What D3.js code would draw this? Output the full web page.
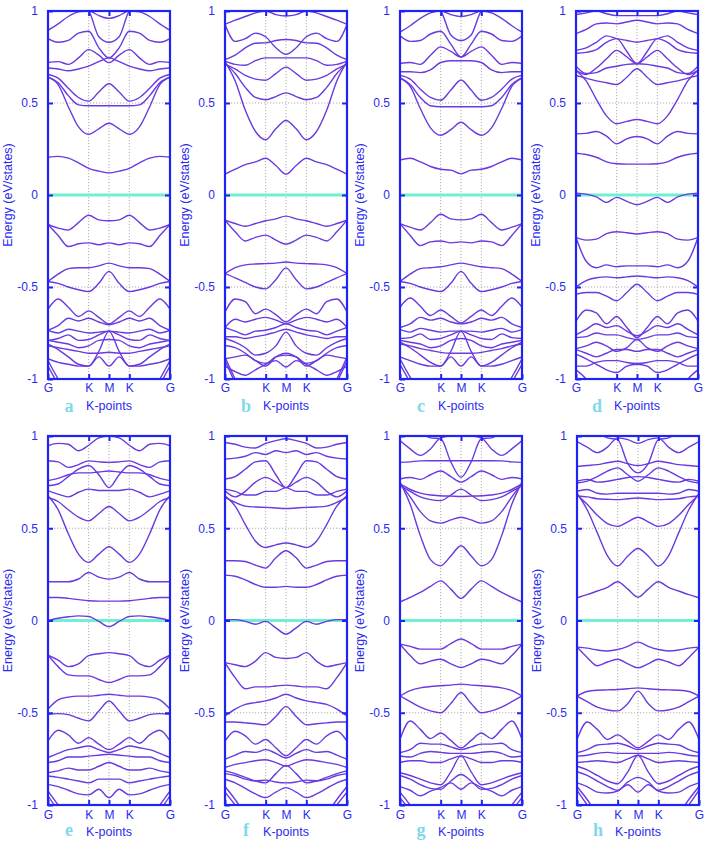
<!DOCTYPE html>
<html><head><meta charset="utf-8">
<script src="https://cdn.jsdelivr.net/npm/d3@7/dist/d3.min.js"></script>
<style>body{margin:0;background:#fff}svg{display:block}</style>
</head><body>
<svg id="chart" width="709" height="842"></svg>
<script>
// ---- data ----
// k-path G-K-M-K-G (symmetric about M); half path sampled at these k values
const kHalf = [0, 0.25, 0.5, 0.75, 1, 1.25, 1.5];
const kTickPos = [0, 1, 1.5, 2, 3];
const kTickLabels = ["G", "K", "M", "K", "G"];
const eTicks = [-1, -0.5, 0, 0.5, 1];
const eTickLabels = ["-1", "-0.5", "0", "0.5", "1"];
const panelLetters = ["a", "b", "c", "d", "e", "f", "g", "h"];
const xTitle = "K-points";
const yTitle = "Energy (eV/states)";

const bandsA = [
  [0.205, 0.21, 0.20, 0.175, 0.145, 0.13, 0.12],
  [0.64, 0.60, 0.48, 0.37, 0.33, 0.36, 0.39],
  [0.64, 0.61, 0.54, 0.49, 0.485, 0.485, 0.485],
  [0.655, 0.635, 0.58, 0.53, 0.51, 0.56, 0.605],
  [0.69, 0.685, 0.675, 0.685, 0.70, 0.725, 0.745],
  [0.72, 0.725, 0.71, 0.745, 0.79, 0.76, 0.72],
  [0.85, 0.83, 0.84, 0.88, 0.89, 0.80, 0.745],
  [0.895, 0.93, 0.97, 0.995, 1.0, 0.975, 0.96],
  [1.15, 1.12, 1.08, 1.03, 1.0, 0.86, 0.83],
  [-0.16, -0.18, -0.19, -0.15, -0.11, -0.135, -0.14],
  [-0.16, -0.22, -0.28, -0.265, -0.26, -0.27, -0.26],
  [-0.47, -0.43, -0.40, -0.395, -0.395, -0.385, -0.37],
  [-0.47, -0.48, -0.50, -0.515, -0.525, -0.48, -0.415],
  [-0.62, -0.565, -0.61, -0.66, -0.63, -0.665, -0.70],
  [-0.735, -0.71, -0.67, -0.685, -0.67, -0.69, -0.705],
  [-0.735, -0.75, -0.73, -0.74, -0.75, -0.745, -0.74],
  [-0.79, -0.78, -0.76, -0.79, -0.785, -0.76, -0.74],
  [-0.79, -0.80, -0.81, -0.83, -0.82, -0.79, -0.785],
  [-0.81, -0.84, -0.88, -0.92, -0.93, -0.85, -0.74],
  [-0.82, -0.83, -0.84, -0.85, -0.86, -0.86, -0.855],
  [-0.89, -0.91, -0.92, -0.93, -0.93, -0.88, -0.93],
  [-0.90, -1.0, -1.08, -1.12, -1.12, -1.12, -1.12],
  [-0.93, -1.03, -1.12, -1.15, -1.15, -1.15, -1.15]
];
const bandsB = [
  [0.113, 0.14, 0.165, 0.18, 0.20, 0.16, 0.113],
  [0.725, 0.62, 0.46, 0.345, 0.30, 0.36, 0.405],
  [0.718, 0.66, 0.585, 0.53, 0.518, 0.535, 0.555],
  [0.71, 0.685, 0.65, 0.63, 0.624, 0.66, 0.695],
  [0.727, 0.71, 0.705, 0.73, 0.745, 0.745, 0.745],
  [0.736, 0.76, 0.80, 0.825, 0.827, 0.84, 0.845],
  [0.927, 0.835, 0.85, 0.88, 0.86, 0.80, 0.764],
  [0.927, 0.95, 0.97, 0.99, 1.0, 0.98, 0.973],
  [-0.137, -0.155, -0.17, -0.155, -0.14, -0.13, -0.115],
  [-0.137, -0.20, -0.25, -0.23, -0.218, -0.245, -0.267],
  [-0.427, -0.395, -0.38, -0.375, -0.373, -0.37, -0.364],
  [-0.427, -0.45, -0.475, -0.50, -0.51, -0.46, -0.396],
  [-0.636, -0.565, -0.58, -0.645, -0.62, -0.65, -0.69],
  [-0.72, -0.675, -0.69, -0.675, -0.665, -0.68, -0.70],
  [-0.72, -0.74, -0.76, -0.74, -0.735, -0.72, -0.70],
  [-0.77, -0.77, -0.78, -0.77, -0.76, -0.745, -0.73],
  [-0.78, -0.80, -0.83, -0.87, -0.86, -0.82, -0.745],
  [-0.818, -0.83, -0.86, -0.90, -0.915, -0.88, -0.87],
  [-0.89, -0.88, -0.87, -0.90, -0.93, -0.88, -0.86],
  [-0.93, -0.96, -0.98, -0.95, -0.92, -0.90, -0.935],
  [-0.88, -1.0, -1.1, -1.15, -1.15, -1.15, -1.15],
  [-0.90, -1.02, -1.12, -1.15, -1.15, -1.15, -1.15]
];
const bandsC = [
  [0.19, 0.20, 0.18, 0.155, 0.14, 0.135, 0.115],
  [0.636, 0.59, 0.47, 0.365, 0.325, 0.355, 0.395],
  [0.636, 0.60, 0.53, 0.485, 0.48, 0.48, 0.48],
  [0.65, 0.63, 0.575, 0.53, 0.515, 0.57, 0.625],
  [0.67, 0.67, 0.665, 0.68, 0.72, 0.73, 0.73],
  [0.715, 0.72, 0.71, 0.76, 0.805, 0.78, 0.75],
  [0.865, 0.835, 0.84, 0.875, 0.89, 0.82, 0.75],
  [0.885, 0.92, 0.96, 0.99, 1.0, 0.98, 0.97],
  [1.15, 1.12, 1.08, 1.03, 1.0, 0.87, 0.84],
  [-0.155, -0.175, -0.19, -0.15, -0.105, -0.13, -0.135],
  [-0.155, -0.22, -0.275, -0.255, -0.25, -0.26, -0.255],
  [-0.47, -0.43, -0.40, -0.395, -0.39, -0.38, -0.37],
  [-0.47, -0.48, -0.50, -0.515, -0.525, -0.48, -0.415],
  [-0.61, -0.56, -0.605, -0.655, -0.625, -0.66, -0.695],
  [-0.72, -0.70, -0.665, -0.68, -0.67, -0.69, -0.70],
  [-0.73, -0.745, -0.725, -0.735, -0.745, -0.74, -0.74],
  [-0.78, -0.775, -0.755, -0.785, -0.78, -0.76, -0.74],
  [-0.79, -0.80, -0.81, -0.83, -0.82, -0.79, -0.78],
  [-0.80, -0.83, -0.87, -0.91, -0.93, -0.85, -0.74],
  [-0.81, -0.82, -0.835, -0.845, -0.855, -0.86, -0.86],
  [-0.88, -0.90, -0.92, -0.93, -0.93, -0.88, -0.93],
  [-0.89, -0.99, -1.08, -1.12, -1.12, -1.12, -1.12],
  [-0.92, -1.02, -1.12, -1.15, -1.15, -1.15, -1.15]
];
const bandsD = [
  [0.01, 0.005, -0.01, -0.04, -0.013, -0.035, -0.053],
  [0.227, 0.22, 0.205, 0.18, 0.17, 0.168, 0.168],
  [0.332, 0.335, 0.345, 0.32, 0.278, 0.305, 0.318],
  [0.677, 0.62, 0.52, 0.43, 0.387, 0.40, 0.41],
  [0.65, 0.635, 0.62, 0.61, 0.60, 0.64, 0.686],
  [0.677, 0.655, 0.69, 0.74, 0.786, 0.75, 0.713],
  [0.70, 0.66, 0.665, 0.69, 0.70, 0.71, 0.713],
  [0.77, 0.775, 0.79, 0.83, 0.85, 0.78, 0.713],
  [0.786, 0.80, 0.83, 0.865, 0.85, 0.84, 0.83],
  [0.877, 0.90, 0.93, 0.935, 0.93, 0.94, 0.95],
  [0.98, 0.99, 1.0, 0.985, 0.975, 0.975, 0.975],
  [-0.23, -0.245, -0.24, -0.21, -0.20, -0.205, -0.212],
  [-0.23, -0.36, -0.395, -0.38, -0.39, -0.385, -0.385],
  [-0.50, -0.465, -0.45, -0.445, -0.45, -0.445, -0.44],
  [-0.54, -0.53, -0.53, -0.55, -0.575, -0.53, -0.485],
  [-0.685, -0.625, -0.64, -0.70, -0.66, -0.72, -0.775],
  [-0.76, -0.73, -0.70, -0.72, -0.71, -0.74, -0.765],
  [-0.775, -0.77, -0.75, -0.76, -0.76, -0.775, -0.785],
  [-0.835, -0.82, -0.80, -0.82, -0.85, -0.83, -0.785],
  [-0.84, -0.86, -0.88, -0.86, -0.84, -0.84, -0.85],
  [-0.865, -0.89, -0.92, -0.95, -0.965, -0.93, -0.92],
  [-0.93, -0.93, -0.91, -0.90, -0.90, -0.91, -0.915],
  [-0.95, -1.0, -1.08, -1.12, -1.12, -1.12, -1.12]
];
const bandsE = [
  [0.0, 0.012, 0.02, 0.025, 0.022, -0.005, -0.033],
  [0.125, 0.125, 0.12, 0.113, 0.107, 0.105, 0.105],
  [0.21, 0.21, 0.21, 0.225, 0.26, 0.235, 0.224],
  [0.676, 0.60, 0.47, 0.36, 0.315, 0.36, 0.40],
  [0.667, 0.645, 0.60, 0.56, 0.54, 0.58, 0.618],
  [0.703, 0.685, 0.67, 0.695, 0.712, 0.705, 0.705],
  [0.73, 0.74, 0.78, 0.82, 0.84, 0.79, 0.72],
  [0.758, 0.77, 0.79, 0.80, 0.80, 0.805, 0.81],
  [0.866, 0.86, 0.83, 0.845, 0.865, 0.86, 0.857],
  [0.947, 0.96, 0.955, 0.92, 0.95, 0.99, 1.0],
  [-0.188, -0.215, -0.25, -0.235, -0.19, -0.18, -0.174],
  [-0.188, -0.25, -0.295, -0.30, -0.30, -0.32, -0.336],
  [-0.48, -0.43, -0.415, -0.41, -0.41, -0.405, -0.40],
  [-0.508, -0.505, -0.51, -0.53, -0.544, -0.49, -0.436],
  [-0.653, -0.595, -0.62, -0.665, -0.635, -0.67, -0.70],
  [-0.743, -0.72, -0.70, -0.69, -0.68, -0.70, -0.716],
  [-0.77, -0.76, -0.74, -0.74, -0.735, -0.73, -0.725],
  [-0.825, -0.815, -0.80, -0.81, -0.81, -0.79, -0.77],
  [-0.843, -0.85, -0.86, -0.87, -0.88, -0.86, -0.86],
  [-0.888, -0.90, -0.92, -0.94, -0.945, -0.915, -0.96],
  [-0.924, -1.0, -1.08, -1.12, -1.12, -1.12, -1.12],
  [-0.95, -1.03, -1.1, -1.15, -1.15, -1.15, -1.15]
];
const bandsF = [
  [0.005, 0.005, -0.005, -0.02, -0.005, -0.04, -0.074],
  [0.246, 0.24, 0.22, 0.195, 0.18, 0.18, 0.185],
  [0.324, 0.324, 0.32, 0.30, 0.284, 0.34, 0.378],
  [0.676, 0.62, 0.52, 0.43, 0.396, 0.41, 0.42],
  [0.667, 0.64, 0.62, 0.615, 0.613, 0.61, 0.607],
  [0.703, 0.67, 0.70, 0.75, 0.776, 0.75, 0.72],
  [0.712, 0.70, 0.68, 0.68, 0.70, 0.70, 0.72],
  [0.767, 0.78, 0.82, 0.86, 0.866, 0.79, 0.72],
  [0.875, 0.88, 0.89, 0.91, 0.90, 0.92, 0.91],
  [0.965, 0.955, 0.94, 0.935, 0.96, 0.975, 0.985],
  [-0.228, -0.24, -0.25, -0.22, -0.174, -0.20, -0.206],
  [-0.228, -0.31, -0.37, -0.36, -0.36, -0.355, -0.35],
  [-0.517, -0.48, -0.455, -0.445, -0.436, -0.42, -0.40],
  [-0.55, -0.55, -0.555, -0.56, -0.565, -0.52, -0.467],
  [-0.653, -0.60, -0.625, -0.67, -0.645, -0.69, -0.734],
  [-0.752, -0.73, -0.71, -0.715, -0.70, -0.72, -0.745],
  [-0.797, -0.78, -0.77, -0.76, -0.755, -0.77, -0.79],
  [-0.815, -0.83, -0.85, -0.87, -0.88, -0.83, -0.785],
  [-0.83, -0.84, -0.86, -0.87, -0.865, -0.875, -0.88],
  [-0.86, -0.88, -0.91, -0.94, -0.96, -0.93, -0.906],
  [-0.90, -0.97, -1.05, -1.1, -1.1, -1.1, -1.1],
  [-0.93, -1.0, -1.08, -1.12, -1.12, -1.12, -1.12]
];
const bandsG = [
  [0.10, 0.125, 0.152, 0.185, 0.215, 0.17, 0.12],
  [0.75, 0.63, 0.46, 0.33, 0.297, 0.35, 0.405],
  [0.745, 0.67, 0.59, 0.54, 0.528, 0.545, 0.56],
  [0.73, 0.70, 0.67, 0.655, 0.65, 0.68, 0.712],
  [0.74, 0.71, 0.69, 0.68, 0.676, 0.674, 0.672],
  [0.767, 0.775, 0.765, 0.79, 0.81, 0.78, 0.75],
  [0.857, 0.86, 0.865, 0.866, 0.866, 0.866, 0.866],
  [1.1, 1.06, 1.02, 0.99, 0.985, 0.86, 0.776],
  [0.975, 0.93, 0.895, 0.93, 0.99, 1.0, 1.0],
  [-0.128, -0.14, -0.155, -0.155, -0.155, -0.125, -0.10],
  [-0.128, -0.19, -0.235, -0.22, -0.21, -0.235, -0.255],
  [-0.409, -0.38, -0.365, -0.358, -0.354, -0.35, -0.345],
  [-0.409, -0.44, -0.47, -0.49, -0.50, -0.45, -0.39],
  [-0.644, -0.545, -0.59, -0.64, -0.61, -0.65, -0.69],
  [-0.716, -0.70, -0.665, -0.67, -0.67, -0.685, -0.70],
  [-0.734, -0.74, -0.72, -0.71, -0.715, -0.72, -0.72],
  [-0.77, -0.76, -0.76, -0.77, -0.77, -0.75, -0.734],
  [-0.825, -0.84, -0.86, -0.88, -0.89, -0.82, -0.734],
  [-0.84, -0.86, -0.89, -0.91, -0.915, -0.87, -0.835],
  [-0.90, -0.92, -0.95, -0.925, -0.905, -0.88, -0.915],
  [-0.93, -1.0, -1.08, -1.12, -1.12, -1.12, -1.12],
  [-0.96, -1.03, -1.1, -1.15, -1.15, -1.15, -1.15]
];
const bandsH = [
  [0.123, 0.14, 0.16, 0.18, 0.21, 0.17, 0.126],
  [0.69, 0.60, 0.475, 0.35, 0.295, 0.35, 0.39],
  [0.68, 0.63, 0.57, 0.525, 0.51, 0.535, 0.56],
  [0.675, 0.67, 0.66, 0.657, 0.655, 0.66, 0.664],
  [0.70, 0.71, 0.69, 0.685, 0.69, 0.69, 0.69],
  [0.745, 0.755, 0.78, 0.81, 0.827, 0.79, 0.755],
  [0.755, 0.765, 0.75, 0.755, 0.765, 0.775, 0.78],
  [0.835, 0.84, 0.845, 0.855, 0.863, 0.85, 0.84],
  [1.1, 1.06, 1.02, 0.99, 0.98, 0.85, 0.80],
  [0.97, 0.94, 0.91, 0.94, 0.99, 0.98, 0.96],
  [-0.144, -0.15, -0.16, -0.165, -0.157, -0.14, -0.117],
  [-0.144, -0.20, -0.245, -0.225, -0.21, -0.235, -0.256],
  [-0.41, -0.385, -0.378, -0.376, -0.374, -0.37, -0.365],
  [-0.41, -0.44, -0.47, -0.485, -0.49, -0.45, -0.383],
  [-0.645, -0.55, -0.59, -0.645, -0.62, -0.655, -0.69],
  [-0.717, -0.70, -0.675, -0.67, -0.665, -0.68, -0.70],
  [-0.735, -0.73, -0.72, -0.715, -0.72, -0.72, -0.72],
  [-0.77, -0.765, -0.76, -0.765, -0.77, -0.75, -0.73],
  [-0.79, -0.81, -0.84, -0.87, -0.885, -0.82, -0.73],
  [-0.82, -0.84, -0.87, -0.90, -0.92, -0.875, -0.85],
  [-0.88, -0.90, -0.93, -0.935, -0.925, -0.89, -0.93],
  [-0.90, -0.97, -1.05, -1.1, -1.1, -1.1, -1.1],
  [-0.92, -1.0, -1.08, -1.12, -1.12, -1.12, -1.12]
];
const allBands = [bandsA, bandsB, bandsC, bandsD, bandsE, bandsF, bandsG, bandsH];

// ---- layout ----
const svg = d3.select("#chart");
const panelLeft = [[48, 225, 400, 576], [48, 225, 400, 577]];
const rowTop = [11, 436], rowBottom = [379, 805];
const panelW = 122;
const frameColor = "#1f24f5", textColor = "#2b2bf0", bandColor = "#6a3ae0", zeroColor = "#6ff0d2";
const font = "'Liberation Sans', Arial, sans-serif";

// full symmetric path G-K-M-K-G from the half-path samples
const kFull = kHalf.concat(kHalf.slice(0, -1).reverse().map(k => 3 - k));

allBands.forEach((bands, i) => {
  const row = i < 4 ? 0 : 1, col = i % 4;
  const x0 = panelLeft[row][col];
  const x = d3.scaleLinear().domain([0, 3]).range([x0, x0 + panelW]);
  const y = d3.scaleLinear().domain([-1, 1]).range([rowBottom[row], rowTop[row]]);
  const g = svg.append("g");
  const clipId = "clip" + i;
  g.append("clipPath").attr("id", clipId).append("rect")
    .attr("x", x0).attr("y", rowTop[row]).attr("width", panelW).attr("height", rowBottom[row] - rowTop[row]);

  // grid
  const grid = g.append("g").attr("stroke", "#9a9a9a").attr("stroke-width", 0.8).attr("stroke-dasharray", "1.2,1.8");
  kTickPos.slice(1, -1).forEach(k => grid.append("line").attr("x1", x(k)).attr("x2", x(k)).attr("y1", y(1)).attr("y2", y(-1)));
  [-0.5, 0.5].forEach(e => grid.append("line").attr("x1", x(0)).attr("x2", x(3)).attr("y1", y(e)).attr("y2", y(e)));

  // zero (Fermi) line
  g.append("line").attr("x1", x(0)).attr("x2", x(3)).attr("y1", y(0)).attr("y2", y(0))
    .attr("stroke", zeroColor).attr("stroke-width", 3);

  // bands
  const line = d3.line().x(d => x(d[0])).y(d => y(d[1])).curve(d3.curveMonotoneX);
  const bg = g.append("g").attr("clip-path", `url(#${clipId})`);
  bands.forEach(v => {
    const vals = v.concat(v.slice(0, -1).reverse());
    bg.append("path").attr("d", line(kFull.map((k, j) => [k, vals[j]])))
      .attr("fill", "none").attr("stroke", bandColor).attr("stroke-width", 1.4);
  });

  // axes (ticks inside frame)
  const tickLen = 5;
  const axB = d3.axisBottom(x).tickValues(kTickPos).tickFormat((d, j) => kTickLabels[j]).tickSizeInner(-tickLen).tickSizeOuter(0).tickPadding(row === 0 ? 4 : 5);
  const axT = d3.axisTop(x).tickValues(kTickPos.slice(1, -1)).tickFormat("").tickSizeInner(-tickLen).tickSizeOuter(0);
  const axL = d3.axisLeft(y).tickValues(eTicks).tickFormat((d, j) => eTickLabels[j]).tickSizeInner(-tickLen).tickSizeOuter(0).tickPadding(10);
  const axR = d3.axisRight(y).tickValues(eTicks.slice(1, -1)).tickFormat("").tickSizeInner(-tickLen).tickSizeOuter(0);
  [[axB, `translate(0,${y(-1)})`], [axT, `translate(0,${y(1)})`], [axL, `translate(${x(0)},0)`], [axR, `translate(${x(3)},0)`]].forEach(([ax, tr]) => {
    const a = g.append("g").attr("transform", tr).call(ax);
    a.select(".domain").remove();
    a.selectAll("line").attr("stroke", frameColor).attr("stroke-width", 2);
    a.selectAll("text").attr("fill", textColor).style("font-family", font).style("font-size", "12px");
  });

  // frame
  g.append("rect").attr("x", x(0)).attr("y", y(1)).attr("width", panelW).attr("height", y(-1) - y(1))
    .attr("fill", "none").attr("stroke", frameColor).attr("stroke-width", 2.2);

  // titles
  const yMid = (y(1) + y(-1)) / 2;
  g.append("text").attr("transform", `translate(${x0 - 36},${yMid}) rotate(-90)`).attr("text-anchor", "middle")
    .attr("fill", textColor).style("font-family", font).style("font-size", "12.5px").text(yTitle);
  const labY = y(-1) + (row === 0 ? 31 : 31);
  g.append("text").attr("x", x(1.5)).attr("y", labY).attr("text-anchor", "middle")
    .attr("fill", textColor).style("font-family", font).style("font-size", "12.5px").text(xTitle);
  g.append("text").attr("x", x0 + 21).attr("y", labY + (row === 0 ? 2 : 0)).attr("text-anchor", "middle")
    .attr("fill", "#7fd9ea").style("font-family", "'Liberation Serif', 'DejaVu Serif', serif").style("font-weight", "bold").style("font-size", "18px")
    .text(panelLetters[i]);
});
</script>
</body></html>
